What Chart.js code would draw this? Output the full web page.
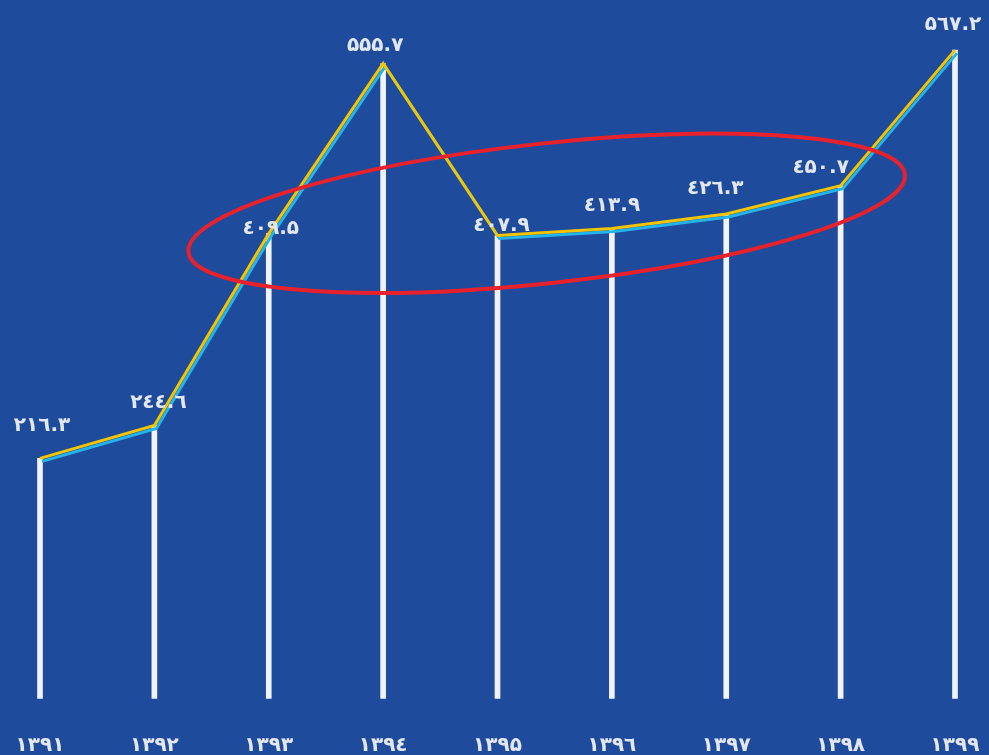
<!DOCTYPE html>
<html>
<head>
<meta charset="utf-8">
<script src="https://cdn.jsdelivr.net/npm/chart.js@4/dist/chart.umd.min.js"></script>
<style>
  html, body { margin: 0; padding: 0; background: #1f4b9d; }
  #wrap { width: 989px; height: 755px; }
</style>
</head>
<body>
<div id="wrap"><canvas id="rendimiento"></canvas></div>
<script>
// سال‌ها و مقادیر
const years = ['۱۳۹۱', '۱۳۹۲', '۱۳۹۳', '۱۳۹٤', '۱۳۹۵', '۱۳۹٦', '۱۳۹۷', '۱۳۹۸', '۱۳۹۹'];
const values = [216.3, 244.6, 409.5, 555.7, 407.9, 413.9, 426.3, 450.7, 567.2];
const valueLabels = ['۲۱٦.۳', '۲٤٤.٦', '٤۰۹.۵', '۵۵۵.۷', '٤۰۷.۹', '٤۱۳.۹', '٤۲٦.۳', '٤۵۰.۷', '۵٦۷.۲'];
const stemBase = 10;

// ubicación manual de cada etiqueta respecto a su punto (px)
const labelLift = [33, 23, 5, 18, 10, 23, 25, 18, 25];
const labelShift = [2, 4, 2, -8, 4, 0, -11, -20, -2];

const FONT = '"DejaVu Sans", sans-serif';
const TEXT = '#e3e7f0';

// sombra cian debajo de la línea amarilla
const lineShadow = {
  id: 'lineShadow',
  beforeDraw(chart) {
    chart.ctx.letterSpacing = '1px';
  },
  beforeDatasetDraw(chart, args) {
    if (args.index !== 0) return;
    const ctx = chart.ctx;
    ctx.save();
    ctx.shadowColor = '#22b4ea';
    ctx.shadowOffsetX = 2;
    ctx.shadowOffsetY = 3;
    ctx.shadowBlur = 0;
  },
  afterDatasetDraw(chart, args) {
    if (args.index !== 0) return;
    chart.ctx.restore();
  }
};

// etiquetas de valor y elipse roja
const extras = {
  id: 'extras',
  afterDatasetsDraw(chart) {
    const ctx = chart.ctx;
    const meta = chart.getDatasetMeta(0);
    ctx.save();
    ctx.font = 'bold 20px ' + FONT;
    ctx.letterSpacing = '1px';
    ctx.fillStyle = TEXT;
    ctx.textAlign = 'center';
    ctx.textBaseline = 'middle';
    meta.data.forEach((pt, i) => {
      ctx.fillText(valueLabels[i], pt.x + labelShift[i], pt.y - labelLift[i]);
    });

    const xs = chart.scales.x, ys = chart.scales.y;
    const cx = xs.getPixelForValue(4.43);
    const cy = ys.getPixelForValue(427);
    const rx = xs.getPixelForValue(7.58) - cx;
    const ry = ys.getPixelForValue(427) - ys.getPixelForValue(487);
    ctx.beginPath();
    ctx.ellipse(cx, cy, rx, ry, -6.2 * Math.PI / 180, 0, Math.PI * 2);
    ctx.strokeStyle = '#e8222c';
    ctx.lineWidth = 4;
    ctx.stroke();
    ctx.restore();
  }
};

new Chart(document.getElementById('rendimiento'), {
  type: 'bar',
  data: {
    labels: years,
    datasets: [{
      type: 'line',
      data: values,
      borderColor: '#f4c400',
      borderWidth: 3,
      pointRadius: 0,
      tension: 0,
      clip: false,
      order: 0
    }, {
      type: 'bar',
      data: values.map(v => [stemBase, v]),
      backgroundColor: '#f2f3f6',
      barThickness: 5,
      clip: false,
      order: 1
    }]
  },
  options: {
    responsive: true,
    maintainAspectRatio: false,
    animation: false,
    layout: { padding: { left: 40, right: 34, top: 12, bottom: -27 } },
    plugins: {
      legend: { display: false },
      tooltip: { enabled: false }
    },
    scales: {
      x: {
        offset: false,
        grid: { display: false, drawTicks: false },
        border: { display: false },
        ticks: {
          color: TEXT,
          padding: 24,
          maxRotation: 0,
          font: { family: FONT, size: 20, weight: 'bold' }
        },
        // los extremos los fija layout.padding, no el ancho de las etiquetas
        afterFit(scale) {
          scale.paddingLeft = 0;
          scale.paddingRight = 0;
        }
      },
      y: {
        display: false,
        min: 0,
        max: 600
      }
    }
  },
  plugins: [lineShadow, extras]
});
</script>
</body>
</html>
